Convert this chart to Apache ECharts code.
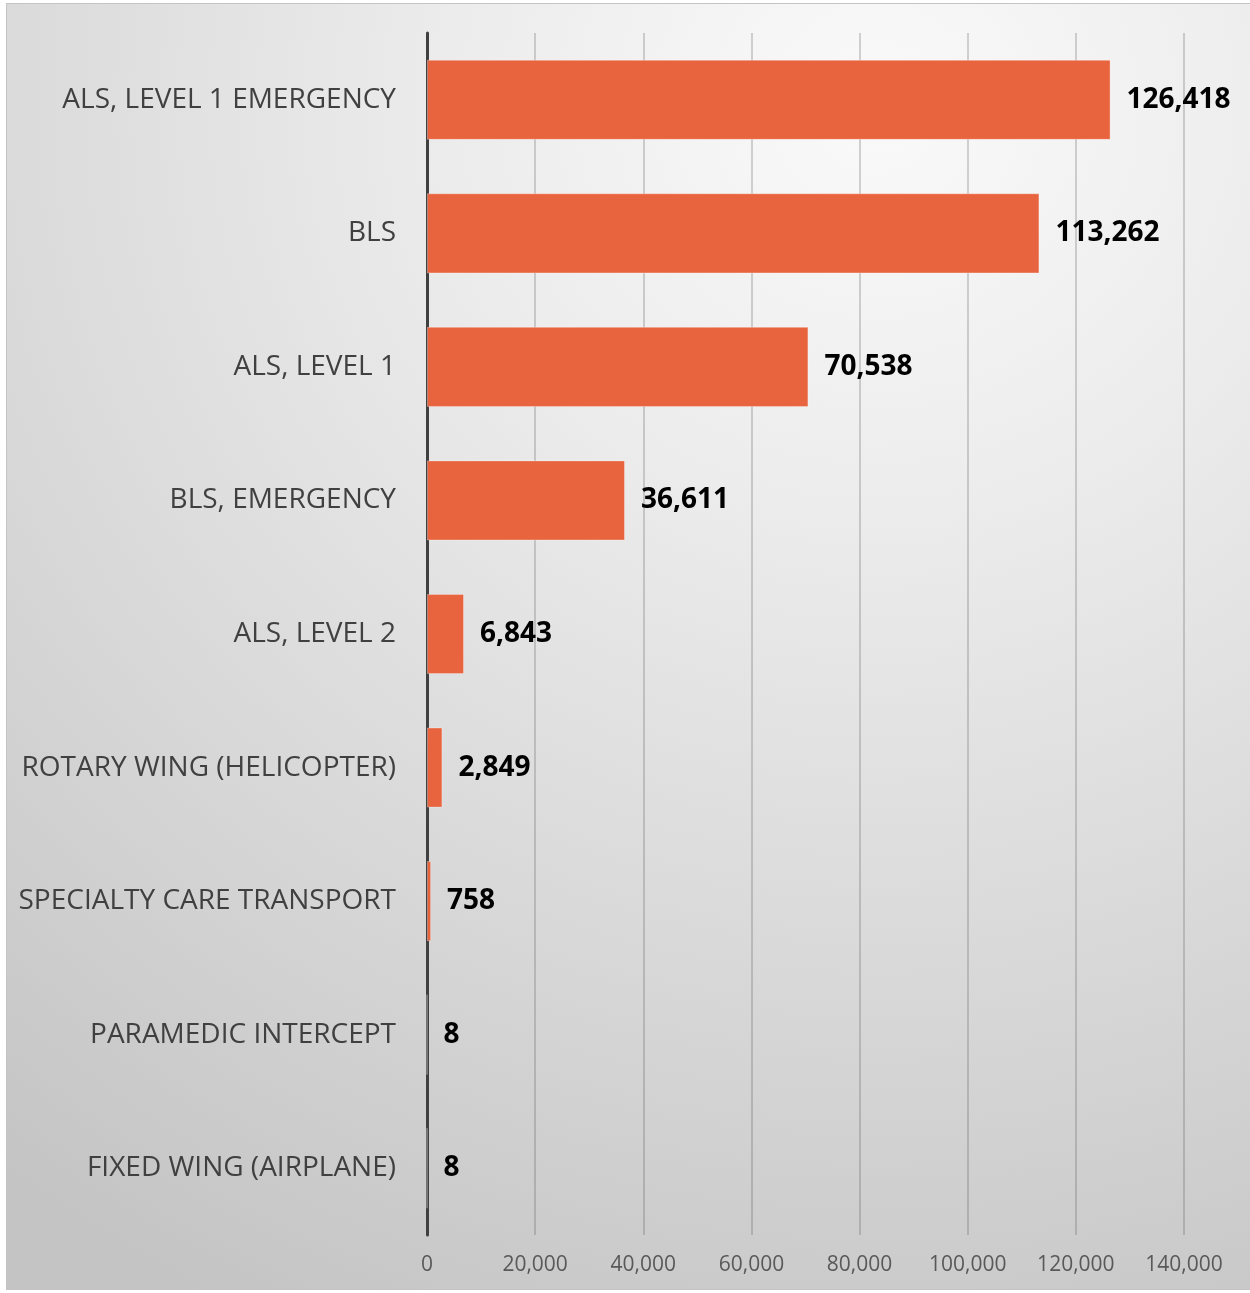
<!DOCTYPE html>
<html>
<head>
<meta charset="utf-8">
<script src="https://cdn.jsdelivr.net/npm/echarts@6/dist/echarts.min.js"></script>
<style>
  html, body { margin: 0; padding: 0; width: 1250px; height: 1293px; background: #ffffff; overflow: hidden; }
  #chart {
    position: absolute; left: 6px; top: 3px; width: 1244px; height: 1287px;
    box-sizing: border-box; border: 1px solid #c4c4c4; border-right: none;
    background: radial-gradient(ellipse 115% 105% at 70% 8%, #fafafa 0%, #ececec 30%, #d8d8d8 65%, #c4c4c4 100%);
  }
</style>
</head>
<body>
<div id="chart"></div>
<script>
const categories = [
  'ALS, LEVEL 1 EMERGENCY',
  'BLS',
  'ALS, LEVEL 1',
  'BLS, EMERGENCY',
  'ALS, LEVEL 2',
  'ROTARY WING (HELICOPTER)',
  'SPECIALTY CARE TRANSPORT',
  'PARAMEDIC INTERCEPT',
  'FIXED WING (AIRPLANE)'
];
const values = [126418, 113262, 70538, 36611, 6843, 2849, 758, 8, 8];
const xTicks = { min: 0, max: 140000, interval: 20000 };

const chart = echarts.init(document.getElementById('chart'), null, { renderer: 'canvas' });
chart.setOption({
  backgroundColor: 'transparent',
  animation: false,
  grid: { left: 420, right: 66, top: 29, bottom: 54, containLabel: false },
  xAxis: {
    type: 'value',
    min: xTicks.min, max: xTicks.max, interval: xTicks.interval,
    axisLine: { show: false },
    axisTick: { show: false },
    splitLine: { show: true, lineStyle: { color: 'rgba(80,80,80,0.32)', width: 1.5 } },
    axisLabel: {
      margin: 20, fontSize: 21, color: '#595959', fontFamily: 'Open Sans',
      formatter: v => v.toLocaleString('en-US')
    }
  },
  yAxis: {
    type: 'category',
    data: categories,
    inverse: true,
    axisLine: { show: true, lineStyle: { color: '#404040', width: 3 } },
    axisTick: { show: false },
    axisLabel: { margin: 31, fontSize: 28, color: '#404040', fontFamily: 'Open Sans' }
  },
  series: [{
    type: 'bar',
    data: values,
    barCategoryGap: '40%',
    itemStyle: { color: '#E8643F', borderColor: 'rgba(255,255,255,0.3)', borderWidth: 1 },
    label: {
      show: true, position: 'right', distance: 16,
      fontSize: 28, fontWeight: 'bold', color: '#000000', fontFamily: 'Open Sans',
      formatter: p => p.value.toLocaleString('en-US')
    }
  }]
});
</script>
</body>
</html>
